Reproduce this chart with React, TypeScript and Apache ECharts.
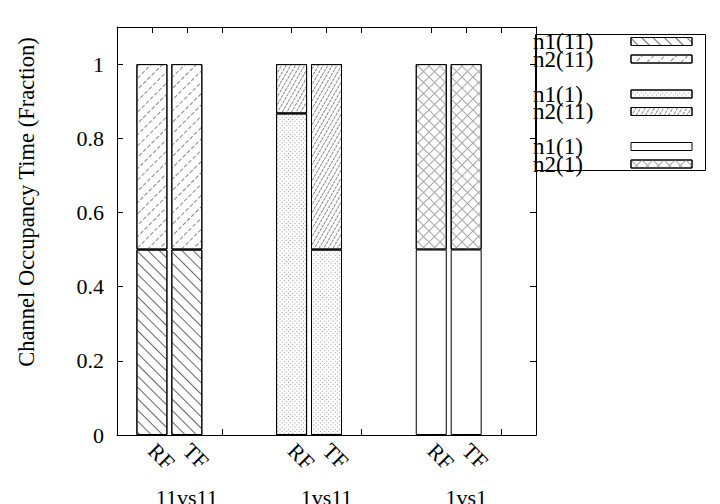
import React, { useEffect, useRef } from 'react';
import * as echarts from 'echarts';

const groups = ['11vs11', '1vs11', '1vs1'];
const barLabels = ['RF', 'TF'];
const legendLabels = ['n1(11)', 'n2(11)', 'n1(1)', 'n2(11)', 'n1(1)', 'n2(1)'];
// values per group: [RF, TF]
const n1_11vs11 = [0.5, 0.5];
const n2_11vs11 = [0.5, 0.5];
const n1_1vs11 = [0.867, 0.5];
const n2_1vs11 = [0.133, 0.5];
const n1_1vs1 = [0.5, 0.5];
const n2_1vs1 = [0.5, 0.5];
const yMin = 0;
const yMax = 1.1;
const yStep = 0.2;

const FONT = 'Liberation Serif';
const SLOTS = 4;

const categories: string[] = [];
const groupCats: string[] = [];
groups.forEach((g) => {
  categories.push('', barLabels[0], barLabels[1], '');
  groupCats.push('', '', g, '');
});
categories.push('');
groupCats.push('');

const seriesDefs = [
  { group: 0, values: n1_11vs11 },
  { group: 0, values: n2_11vs11 },
  { group: 1, values: n1_1vs11 },
  { group: 1, values: n2_1vs11 },
  { group: 2, values: n1_1vs1 },
  { group: 2, values: n2_1vs1 },
];

const X_SHAPE =
  'path://M0,0L0.7,0L5,4.3L9.3,0L10,0L10,0.7L5.7,5L10,9.3L10,10L9.3,10L5,5.7L0.7,10L0,10L0,9.3L4.3,5L0,0.7Z';

const decals: any[] = [
  { symbol: 'rect', symbolSize: 1, color: '#666', dashArrayX: [1, 0], dashArrayY: [1, 7], rotation: Math.PI / 4 },
  { symbol: 'rect', symbolSize: 1, color: '#888', dashArrayX: [4, 2], dashArrayY: [1, 7], rotation: -Math.PI / 4 },
  { symbol: 'rect', symbolSize: 1, color: '#999', dashArrayX: [1, 2], dashArrayY: [1, 2], rotation: Math.PI / 4 },
  { symbol: 'rect', symbolSize: 1, color: '#888', dashArrayX: [3, 1], dashArrayY: [1, 3], rotation: -Math.PI / 3 },
  null,
  { symbol: X_SHAPE, symbolSize: 1, color: '#aaa', dashArrayX: [11, 0], dashArrayY: [11, 0], rotation: 0 },
];

export default function App() {
  const ref = useRef<HTMLDivElement>(null);
  useEffect(() => {
    if (!ref.current) return;
    const chart = echarts.init(ref.current, null, { renderer: 'svg' });
    const names = seriesDefs.map((_, i) => 's' + i);
    const labelOf: Record<string, string> = {};
    names.forEach((n, i) => (labelOf[n] = legendLabels[i]));
    const series: any[] = seriesDefs.map((d, i) => {
      const data: any[] = categories.map(() => '-');
      data[d.group * SLOTS + 1] = d.values[0];
      data[d.group * SLOTS + 2] = d.values[1];
      return {
        name: names[i],
        type: 'bar',
        stack: 'total',
        barWidth: 31,
        xAxisIndex: 0,
        yAxisIndex: 0,
        data,
        itemStyle: {
          color: '#fff',
          borderColor: '#000',
          borderWidth: 1,
          ...(decals[i] ? { decal: decals[i] } : {}),
        },
      };
    });
    series.push({ name: 'gap0', type: 'bar', stack: 'total', barWidth: 31, data: [], xAxisIndex: 0, yAxisIndex: 0 });
    series.push({ name: 'gap1', type: 'bar', stack: 'total', barWidth: 31, data: [], xAxisIndex: 0, yAxisIndex: 0 });

    const gapItem = (n: string) => ({ name: n, itemStyle: { opacity: 0, borderWidth: 0 } });

    const tickStyle = { show: true, inside: true, length: 6, lineStyle: { color: '#000', width: 1 } };
    const lineStyle = { show: true, onZero: false, lineStyle: { color: '#000', width: 1 } };

    chart.setOption({
      animation: false,
      grid: { left: 117, right: 184, top: 27, bottom: 69, containLabel: false, outerBoundsMode: 'none' },
      graphic: [
        {
          type: 'rect',
          shape: { x: 535.5, y: 34.5, width: 170, height: 136 },
          style: { fill: 'none', stroke: '#000', lineWidth: 1 },
          z: 10,
        },
      ],
      legend: {
        orient: 'vertical',
        left: 533,
        top: 30,
        padding: 0,
        itemGap: -5.5,
        itemWidth: 61,
        itemHeight: 8,
        align: 'right',
        icon: 'rect',
        selectedMode: false,
        itemStyle: { borderWidth: 1, borderColor: '#000' },
        data: [names[0], names[1], gapItem('gap0'), names[2], names[3], gapItem('gap1'), names[4], names[5]],
        formatter: (n: string) => `{a|${labelOf[n] ?? ' '}}`,
        textStyle: {
          fontSize: 23,
          fontFamily: FONT,
          color: '#000',
          rich: { a: { width: 93, align: 'left', fontSize: 23, fontFamily: FONT, color: '#000' } },
        },
      },
      xAxis: [
        {
          type: 'category',
          data: categories,
          boundaryGap: false,
          position: 'bottom',
          axisLine: lineStyle,
          axisTick: { ...tickStyle, interval: (i: number) => i % SLOTS !== 0 },
          axisLabel: { interval: 0, rotate: -45, margin: 12, fontSize: 22, fontFamily: FONT, color: '#000' },
          splitLine: { show: false },
        },
        {
          type: 'category',
          data: groupCats,
          boundaryGap: false,
          position: 'bottom',
          offset: 38,
          axisLine: { show: false },
          axisTick: { show: false },
          axisLabel: { interval: 0, margin: 13, fontSize: 22, fontFamily: FONT, color: '#000' },
          splitLine: { show: false },
        },
        {
          type: 'category',
          data: categories,
          boundaryGap: false,
          position: 'top',
          axisLine: lineStyle,
          axisTick: { ...tickStyle, interval: (i: number) => i % SLOTS !== 0 },
          axisLabel: { show: false },
          splitLine: { show: false },
        },
      ],
      yAxis: [
        {
          type: 'value',
          min: yMin,
          max: yMax,
          interval: yStep,
          position: 'left',
          axisLine: lineStyle,
          axisTick: tickStyle,
          axisLabel: { showMaxLabel: false, margin: 13, fontSize: 22, fontFamily: FONT, color: '#000' },
          splitLine: { show: false },
          name: 'Channel Occupancy Time (Fraction)',
          nameLocation: 'middle',
          nameGap: 79,
          nameTextStyle: { fontSize: 22.5, fontFamily: FONT, color: '#000', padding: [0, 0, 0, 58] },
        },
        {
          type: 'value',
          min: yMin,
          max: yMax,
          interval: yStep,
          position: 'right',
          axisLine: lineStyle,
          axisTick: tickStyle,
          axisLabel: { show: false },
          splitLine: { show: false },
        },
      ],
      series,
    });
    return () => chart.dispose();
  }, []);
  return <div ref={ref} style={{ position: 'fixed', left: 0, top: 0, width: 720, height: 504, background: '#fff' }} />;
}
